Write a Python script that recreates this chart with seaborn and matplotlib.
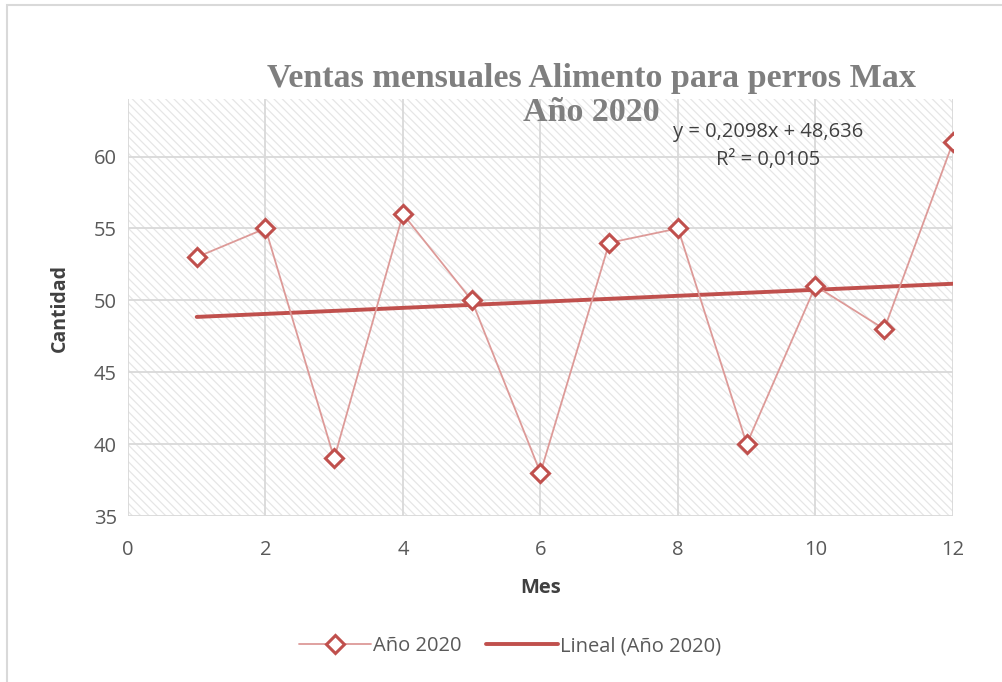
# Ventas mensuales - alimento para perros Max, 2020
# line chart with a linear trend line, Excel-like style

import numpy as np
import pandas as pd
import seaborn as sns
import matplotlib.pyplot as plt
from matplotlib.patches import Rectangle

# data
meses = [1, 2, 3, 4, 5, 6, 7, 8, 9, 10, 11, 12]
cantidad = [53, 55, 39, 56, 50, 38, 54, 55, 40, 51, 48, 61]
x_ticks = [0, 2, 4, 6, 8, 10, 12]
y_ticks = [35, 40, 45, 50, 55, 60]
pendiente = 0.2098
intercepto = 48.636
r2 = 0.0105

df = pd.DataFrame({"Mes": meses, "Cantidad": cantidad})
df["Tendencia"] = intercepto + pendiente * df["Mes"]

sns.set_theme(style="white")
plt.rcParams["font.family"] = ["Open Sans", "DejaVu Sans"]
plt.rcParams["hatch.linewidth"] = 0.9

red = "#c0504d"
light_red = "#dd9a98"
gray_text = "#595959"
grid_col = "#d9d9d9"
fs = 14.5

fig = plt.figure(figsize=(10.02, 6.82), dpi=100)
ax = fig.add_axes([0.1277, 0.2434, 0.8234, 0.6114])

# outer chart border (only top/left visible in the original)
fig.patches.append(Rectangle((0.007, -0.05), 1.1, 1.043, transform=fig.transFigure,
                             fill=False, edgecolor="#d9d9d9", lw=1.5))

# hatched plot area
ax.add_patch(Rectangle((0, 0), 1, 1, transform=ax.transAxes, facecolor="white",
                       edgecolor="#e6e6e6", hatch="\\\\\\\\", lw=0, zorder=0))

sns.lineplot(data=df, x="Mes", y="Cantidad", ax=ax, color=light_red, lw=1.3,
             marker="D", markersize=9, markerfacecolor="white",
             markeredgecolor=red, markeredgewidth=2.2, zorder=4,
             label="Año 2020")
sns.lineplot(data=df, x="Mes", y="Tendencia", ax=ax, color=red, lw=2.8,
             zorder=3, label="Lineal (Año 2020)")

ax.set_xlim(0, 12)
ax.set_ylim(35, 64)
ax.set_xticks(x_ticks)
ax.set_yticks(y_ticks)
ax.grid(True, color=grid_col, lw=1.3, zorder=1)
ax.set_axisbelow(True)
for s in ax.spines.values():
    s.set_visible(False)
ax.tick_params(axis="y", length=0, labelsize=fs, colors=gray_text, pad=8)
ax.tick_params(axis="x", length=0, labelsize=fs, colors=gray_text, pad=17)

ax.set_xlabel("Mes", fontsize=14.5, fontweight="bold", color="#404040", labelpad=13)
ax.set_ylabel("Cantidad", fontsize=14, fontweight="bold", color="#404040", labelpad=17)

# title (serif, gray, bold) overlapping the plot area, one text per line
title_kw = dict(ha="center", va="center", fontsize=24.5, fontweight="bold",
                color="#7f7f7f", family=["Liberation Serif", "DejaVu Serif"], zorder=5)
fig.text(0.59, 0.885, "Ventas mensuales Alimento para perros Max", **title_kw)
fig.text(0.59, 0.835, "Año 2020", **title_kw)

# trend equation
ax.text(0.7665, 0.786, f"y = {pendiente:.4f}x + {intercepto:.3f}".replace(".", ",")
        + f"\nR² = {r2:.4f}".replace(".", ","),
        transform=fig.transFigure, ha="center", va="center", fontsize=fs,
        color="#404040", linespacing=1.5)

leg = ax.legend(loc="upper center", bbox_to_anchor=(0.463, -0.245), ncol=2,
                frameon=False, fontsize=fs, handlelength=3.6, handletextpad=0.1,
                columnspacing=1.2)
for t in leg.get_texts():
    t.set_color(gray_text)

fig.savefig("out.png", dpi=100)
